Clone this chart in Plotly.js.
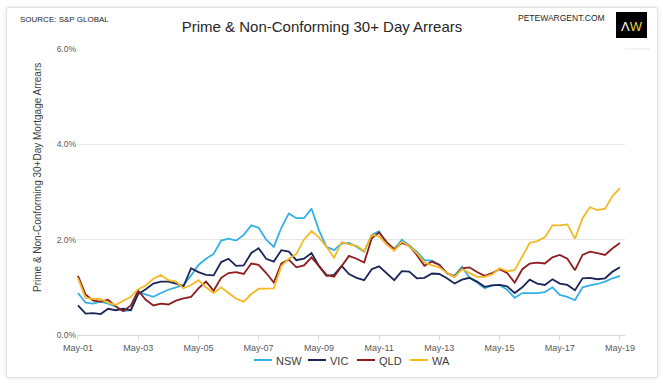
<!DOCTYPE html>
<html>
<head>
<meta charset="utf-8">
<script src="https://cdn.plot.ly/plotly-3.0.1.min.js"></script>
<style>
  html, body { margin: 0; padding: 0; background: #ffffff; }
  #card { position: absolute; left: 6px; top: 7px; width: 650px; height: 369px;
          border: 1px solid #e2e2e2; border-radius: 3px; box-shadow: 0 0 4px rgba(0,0,0,0.12); background: #fff; }
  #chart { position: absolute; left: 0; top: 0; width: 663px; height: 383px; }
</style>
</head>
<body>
<div id="card"></div>
<div id="chart"></div>
<script>
// Quarterly observation dates
const dates = [
  '2001-05-01','2001-08-01','2001-11-01',
  '2002-02-01','2002-05-01','2002-08-01','2002-11-01',
  '2003-02-01','2003-05-01','2003-08-01','2003-11-01',
  '2004-02-01','2004-05-01','2004-08-01','2004-11-01',
  '2005-02-01','2005-05-01','2005-08-01','2005-11-01',
  '2006-02-01','2006-05-01','2006-08-01','2006-11-01',
  '2007-02-01','2007-05-01','2007-08-01','2007-11-01',
  '2008-02-01','2008-05-01','2008-08-01','2008-11-01',
  '2009-02-01','2009-05-01','2009-08-01','2009-11-01',
  '2010-02-01','2010-05-01','2010-08-01','2010-11-01',
  '2011-02-01','2011-05-01','2011-08-01','2011-11-01',
  '2012-02-01','2012-05-01','2012-08-01','2012-11-01',
  '2013-02-01','2013-05-01','2013-08-01','2013-11-01',
  '2014-02-01','2014-05-01','2014-08-01','2014-11-01',
  '2015-02-01','2015-05-01','2015-08-01','2015-11-01',
  '2016-02-01','2016-05-01','2016-08-01','2016-11-01',
  '2017-02-01','2017-05-01','2017-08-01','2017-11-01',
  '2018-02-01','2018-05-01','2018-08-01','2018-11-01',
  '2019-02-01','2019-05-01'
];

// 30+ day arrears, % of loans
const nsw = [0.88,0.68,0.66,0.70, 0.66,0.60,0.50,0.52, 0.90,0.85,0.80,0.88, 0.95,1.00,1.05,1.25,
             1.47,1.60,1.70,1.98, 2.02,1.98,2.10,2.30, 2.25,2.00,1.85,2.25, 2.55,2.45,2.45,2.65,
             2.20,1.85,1.78,1.92, 1.93,1.85,1.75,2.10, 2.18,1.90,1.80,2.00, 1.88,1.75,1.57,1.56,
             1.48,1.29,1.25,1.43, 1.20,1.10,0.98,1.04, 1.05,0.95,0.78,0.88, 0.88,0.88,0.90,1.00,
             0.84,0.80,0.73,1.00, 1.04,1.07,1.12,1.19, 1.24];
const vic = [0.62,0.45,0.46,0.44, 0.55,0.52,0.55,0.52, 0.86,0.96,1.08,1.12, 1.12,1.08,1.02,1.40,
             1.32,1.26,1.25,1.53, 1.60,1.45,1.46,1.72, 1.82,1.60,1.54,1.78, 1.75,1.57,1.60,1.72,
             1.45,1.24,1.26,1.45, 1.28,1.20,1.15,1.38, 1.44,1.30,1.15,1.34, 1.33,1.19,1.20,1.29,
             1.28,1.19,1.08,1.16, 1.20,1.12,1.01,1.04, 1.05,1.02,0.88,1.00, 1.16,1.08,1.05,1.17,
             1.08,1.05,0.94,1.19, 1.20,1.17,1.19,1.33, 1.42];
const qld = [1.24,0.85,0.72,0.70, 0.74,0.60,0.50,0.62, 0.93,0.74,0.62,0.66, 0.64,0.72,0.77,0.80,
             0.98,1.12,0.93,1.20, 1.30,1.32,1.28,1.50, 1.47,1.30,1.10,1.50, 1.58,1.42,1.46,1.63,
             1.45,1.26,1.22,1.45, 1.66,1.60,1.52,2.03, 2.15,1.95,1.80,1.93, 1.87,1.68,1.45,1.54,
             1.47,1.30,1.22,1.40, 1.42,1.32,1.24,1.30, 1.38,1.30,1.10,1.38, 1.50,1.52,1.50,1.63,
             1.68,1.60,1.36,1.68, 1.75,1.72,1.68,1.82, 1.93];
const wa  = [1.19,0.78,0.76,0.75, 0.68,0.63,0.72,0.80, 0.96,1.04,1.18,1.26, 1.15,1.12,0.98,1.05,
             1.15,1.00,0.88,1.00, 0.88,0.76,0.70,0.86, 0.97,0.98,0.98,1.45, 1.60,1.70,2.00,2.18,
             2.05,1.85,1.62,1.95, 1.90,1.87,1.76,2.10, 2.07,1.90,1.77,1.96, 1.86,1.72,1.52,1.46,
             1.42,1.30,1.22,1.38, 1.30,1.22,1.22,1.27, 1.40,1.34,1.36,1.66, 1.93,1.97,2.05,2.30,
             2.30,2.32,2.02,2.45, 2.68,2.62,2.65,2.92, 3.08];

const seriesNames = ['NSW','VIC','QLD','WA'];
const seriesColors = ['#33b0e6','#1b2558','#8e1d1f','#f5b923'];
const seriesValues = [nsw, vic, qld, wa];

const traces = seriesNames.map((n, i) => ({
  type: 'scatter', mode: 'lines', name: n, x: dates, y: seriesValues[i],
  line: { color: seriesColors[i], width: 1.8 }, hoverinfo: 'x+y'
}));

const FONT = 'Liberation Sans, Arial, sans-serif';
const L = 77, R = 625, T = 49, B = 335;
const px = X => (X - L) / (R - L);
const py = Y => (B - Y) / (B - T);

// compact legend (sample line start pixel for each entry)
const legendStart = [254, 308, 357, 410];
const legendShapes = legendStart.map((s, i) => ({
  type: 'line', xref: 'paper', yref: 'paper', x0: px(s), x1: px(s + 18), y0: py(360), y1: py(360),
  line: { color: seriesColors[i], width: 2 }
}));
const legendLabels = legendStart.map((s, i) => ({
  text: seriesNames[i], xref: 'paper', yref: 'paper', x: px(s + 20), y: py(360.5), xanchor: 'left', yanchor: 'middle',
  showarrow: false, font: { size: 11, color: '#404040' }
}));

const layout = {
  width: 663, height: 383,
  margin: { l: L, r: 663 - R, t: T, b: 383 - B, pad: 0 },
  paper_bgcolor: 'rgba(0,0,0,0)', plot_bgcolor: 'rgba(0,0,0,0)',
  font: { family: FONT, color: '#595959' },
  title: { text: 'Prime & Non-Conforming 30+ Day Arrears', x: 322/663, xref: 'container', xanchor: 'center',
           y: 1 - 27/383, yref: 'container', yanchor: 'middle', font: { size: 15, color: '#262626', family: FONT } },
  xaxis: {
    type: 'date', range: ['2001-04-19', '2019-07-01'],
    tick0: '2001-05-01', dtick: 'M24', tickformat: '%b-%y',
    showgrid: false, showline: true, linecolor: '#d9d9d9', linewidth: 1,
    ticks: 'outside', ticklen: 4, tickcolor: '#d9d9d9',
    tickfont: { size: 9, color: '#595959' }, zeroline: false, fixedrange: true
  },
  yaxis: {
    range: [0, 6], dtick: 2, tick0: 0, tickformat: '.1f', ticksuffix: '%',
    showgrid: true, gridcolor: '#e6e6e6', gridwidth: 1, zeroline: false, showline: false,
    ticks: '', tickfont: { size: 8.5, color: '#595959' },
    fixedrange: true
  },
  showlegend: false,
  shapes: [
    { type: 'line', xref: 'paper', yref: 'paper', x0: 1, x1: px(650), y0: 1, y1: 1, line: { color: '#e6e6e6', width: 1 } },
    { type: 'rect', xref: 'paper', yref: 'paper', x0: px(616), x1: px(647), y0: py(38), y1: py(12),
      fillcolor: '#000000', line: { width: 0 } }
  ].concat(legendShapes),
  annotations: [
    { text: 'Prime & Non-Conforming 30+Day Mortgage Arrears', xref: 'paper', yref: 'paper', x: px(37), y: py(178),
      xanchor: 'center', yanchor: 'middle', textangle: -90, showarrow: false, font: { size: 10, color: '#404040' } },
    { text: 'SOURCE: S&P GLOBAL', xref: 'paper', yref: 'paper', x: px(18), y: py(20), xanchor: 'left', yanchor: 'middle',
      showarrow: false, font: { size: 8, color: '#262626' } },
    { text: 'PETEWARGENT.COM', xref: 'paper', yref: 'paper', x: px(607), y: py(18), xanchor: 'right', yanchor: 'middle',
      showarrow: false, font: { size: 8.5, color: '#262626' } },
    { text: '<span style="color:#ffffff">Λ</span><span style="color:#e6d23c">W</span>', xref: 'paper', yref: 'paper',
      x: px(631.5), y: py(26), xanchor: 'center', yanchor: 'middle', showarrow: false, font: { size: 13, color: '#ffffff' } }
  ].concat(legendLabels)
};

Plotly.newPlot('chart', traces, layout, { displayModeBar: false, staticPlot: true });
</script>
</body>
</html>
